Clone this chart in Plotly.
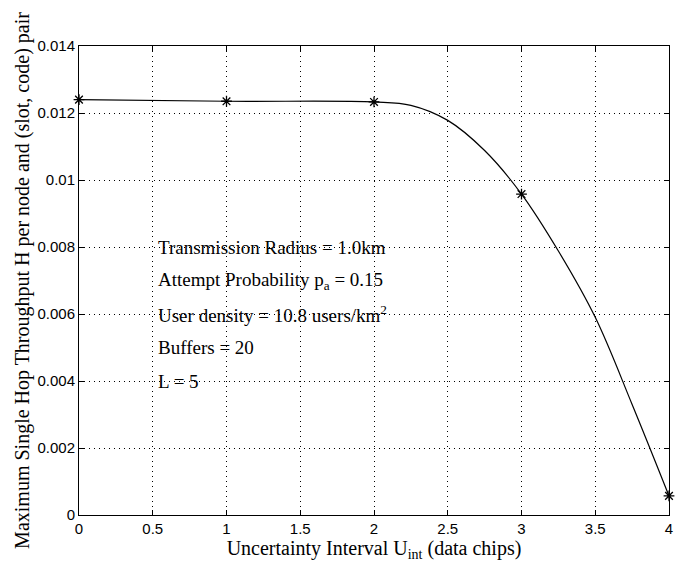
import plotly.graph_objects as go

# curve values
curve_x = [0, 1, 2, 2.25, 2.5, 2.75, 3, 3.25, 3.5, 3.75, 4]
curve_y = [0.0124, 0.01235, 0.01233, 0.01223, 0.01178, 0.01088, 0.00958, 0.00788, 0.0059, 0.0033, 0.00057]

# marked data points
x_vals = [0, 1, 2, 3, 4]
y_vals = [0.0124, 0.01235, 0.01233, 0.00958, 0.00057]

x_ticks = [0, 0.5, 1, 1.5, 2, 2.5, 3, 3.5, 4]
x_tick_labels = ["0", "0.5", "1", "1.5", "2", "2.5", "3", "3.5", "4"]
y_ticks = [0, 0.002, 0.004, 0.006, 0.008, 0.01, 0.012, 0.014]
y_tick_labels = ["0", "0.002", "0.004", "0.006", "0.008", "0.01", "0.012", "0.014"]

notes = [
    "Transmission Radius = 1.0km",
    "Attempt Probability p<sub>a</sub> = 0.15",
    "User density = 10.8 users/km<sup>2</sup>",
    "Buffers = 20",
    "L = 5",
]
note_y = [0.0080, 0.0070, 0.0060, 0.0050, 0.0040]

fig = go.Figure()
fig.add_trace(go.Scatter(
    x=curve_x, y=curve_y, mode="lines",
    line=dict(color="black", width=1.2, shape="spline", smoothing=1.0),
    showlegend=False, hoverinfo="skip",
))
fig.add_trace(go.Scatter(
    x=x_vals, y=y_vals, mode="markers",
    marker=dict(symbol="asterisk-open", size=9, color="black",
                line=dict(color="black", width=1.3)),
    showlegend=False, cliponaxis=False,
))

for t, yy in zip(notes, note_y):
    fig.add_annotation(x=0.52, y=yy, xref="x", yref="y", text=t, showarrow=False,
                       xanchor="left", yanchor="middle",
                       font=dict(family="Liberation Serif", size=19, color="black"))

axis_common = dict(
    showline=True, linecolor="black", linewidth=1, mirror="ticks",
    ticks="inside", ticklen=5, tickcolor="black",
    showgrid=True, gridcolor="black", gridwidth=1, griddash="1px,4px",
    zeroline=False,
    tickfont=dict(family="Liberation Sans", size=15, color="black"),
)

fig.update_xaxes(range=[0, 4], tickvals=x_ticks, ticktext=x_tick_labels,
                 title=dict(text="Uncertainty Interval U<sub>int</sub> (data chips)",
                            font=dict(family="Liberation Serif", size=20, color="black"),
                            standoff=5),
                 **axis_common)
fig.update_yaxes(range=[0, 0.014], tickvals=y_ticks, ticktext=y_tick_labels,
                 title=dict(text="Maximum Single Hop Throughput H per node and (slot, code) pair",
                            font=dict(family="Liberation Serif", size=20, color="black"),
                            standoff=2),
                 **axis_common)

fig.update_layout(
    width=679, height=562,
    margin=dict(l=79, r=6, t=46, b=45),
    paper_bgcolor="white", plot_bgcolor="white",
)

fig.write_html("out.html")
